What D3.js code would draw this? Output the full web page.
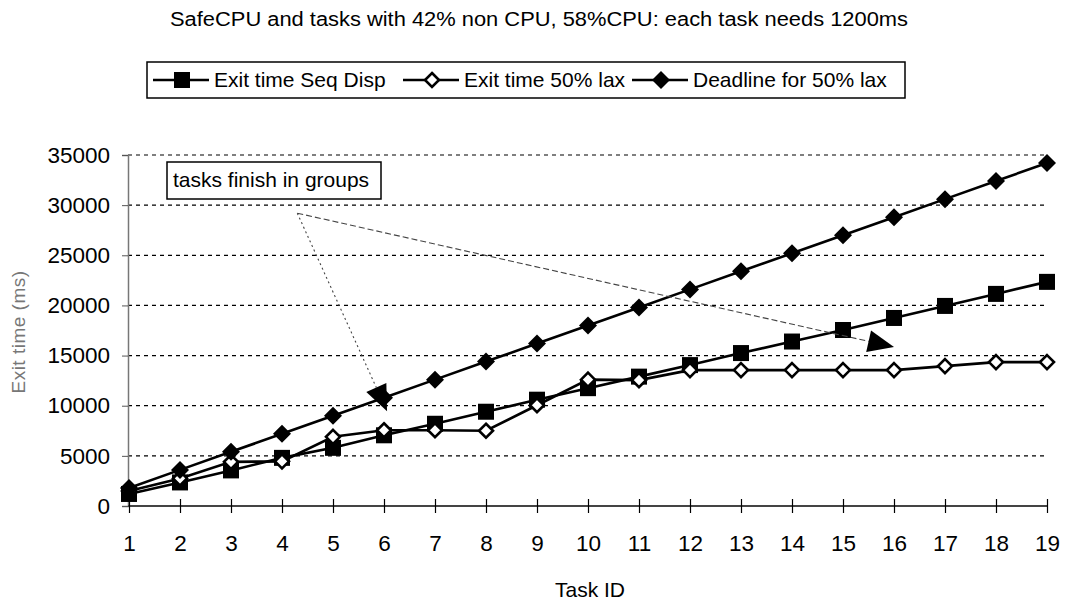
<!DOCTYPE html>
<html>
<head>
<meta charset="utf-8">
<script src="https://cdn.jsdelivr.net/npm/d3@7"></script>
<style>
  html, body { margin: 0; padding: 0; background: #fff; }
  svg { display: block; font-family: "Liberation Sans", Arial, sans-serif; }
</style>
</head>
<body>
<svg id="chart" width="1075" height="601"></svg>
<script>
// Task IDs along the x axis
const tasks = d3.range(1, 20);

// Exit time with sequential dispatch (ms)
const seqDisp = [1200, 2350, 3550, 4800, 5800, 7050, 8200, 9400, 10600, 11750,
                 12900, 14050, 15250, 16400, 17550, 18750, 19950, 21150, 22350];

// Exit time with 50% laxity (ms)
const lax50 = [1500, 2750, 4400, 4450, 6900, 7550, 7550, 7500, 10050, 12600,
               12550, 13550, 13550, 13550, 13550, 13550, 13950, 14350, 14350];

// Deadline for 50% laxity (ms)
const deadline = [1800, 3600, 5400, 7200, 9000, 10800, 12600, 14400, 16200, 18000,
                  19800, 21600, 23400, 25200, 27000, 28800, 30600, 32400, 34200];

const yTicks = [0, 5000, 10000, 15000, 20000, 25000, 30000, 35000];

const seriesNames = ["Exit time Seq Disp", "Exit time 50% lax", "Deadline for 50% lax"];
const seriesMarkers = ["square", "openDiamond", "diamond"];

const titleText = "SafeCPU and tasks with 42% non CPU, 58%CPU: each task needs 1200ms";
const noteText = "tasks finish in groups";

const svg = d3.select("#chart");

const plot = { left: 128, right: 1047, top: 155, bottom: 506 };

const x = d3.scalePoint().domain(tasks).range([plot.left + 1, plot.right]);
const y = d3.scaleLinear().domain([0, 35000]).range([plot.bottom, plot.top]);

// Title (narrow, heavy face stretched to its full run)
svg.append("text")
  .attr("x", 170).attr("y", 26)
  .attr("font-size", 20)
  .attr("textLength", 738)
  .attr("lengthAdjust", "spacingAndGlyphs")
  .text(titleText);

// Horizontal dashed gridlines
svg.append("g")
  .selectAll("line")
  .data(yTicks.filter(d => d > 0))
  .join("line")
  .attr("x1", plot.left).attr("x2", plot.right)
  .attr("y1", d => y(d)).attr("y2", d => y(d))
  .attr("stroke", "#000")
  .attr("stroke-width", 1.2)
  .attr("stroke-dasharray", "4,4");

// Y axis
const yAxis = svg.append("g")
  .attr("transform", `translate(${plot.left},0)`)
  .call(d3.axisLeft(y).tickValues(yTicks).tickSize(6).tickPadding(12).tickFormat(d3.format("d")));
yAxis.select(".domain").attr("stroke", "#777").attr("stroke-width", 1.5);
yAxis.selectAll(".tick line").attr("stroke", "#555");
yAxis.selectAll("text").attr("font-size", 22.5).attr("font-family", "Liberation Sans, Arial, sans-serif").attr("fill", "#000");

// X axis with ticks crossing the baseline
const xAxis = svg.append("g")
  .attr("transform", `translate(0,${plot.bottom})`)
  .call(d3.axisBottom(x).tickSizeInner(7).tickSizeOuter(0).tickPadding(22));
xAxis.select(".domain").attr("stroke", "#444").attr("stroke-width", 2)
  .attr("d", `M${plot.left},0H${plot.right}`);
xAxis.selectAll(".tick line").attr("y1", -7).attr("stroke", "#000").attr("stroke-width", 1.2);
xAxis.selectAll("text").attr("font-size", 22.5).attr("font-family", "Liberation Sans, Arial, sans-serif").attr("fill", "#000");

// Axis titles
svg.append("text")
  .attr("transform", "translate(25,332) rotate(-90)")
  .attr("text-anchor", "middle")
  .attr("font-size", 19)
  .attr("letter-spacing", 0.5)
  .attr("fill", "#777")
  .text("Exit time (ms)");

svg.append("text")
  .attr("x", 590).attr("y", 597)
  .attr("text-anchor", "middle")
  .attr("font-size", 21)
  .text("Task ID");

// Marker drawing helper
function drawMarker(sel, kind) {
  if (kind === "square") {
    sel.append("rect")
      .attr("x", -8).attr("y", -8).attr("width", 16).attr("height", 16)
      .attr("fill", "#000");
  } else if (kind === "diamond") {
    sel.append("path")
      .attr("d", "M0,-9L9,0L0,9L-9,0Z")
      .attr("fill", "#000");
  } else {
    sel.append("path")
      .attr("d", "M0,-7L7,0L0,7L-7,0Z")
      .attr("fill", "#fff")
      .attr("stroke", "#000")
      .attr("stroke-width", 2.6);
  }
}

const line = d3.line().x((d, i) => x(tasks[i])).y(d => y(d));

const seriesData = [seqDisp, lax50, deadline];
seriesData.forEach((vals, si) => {
  const g = svg.append("g");
  g.append("path")
    .attr("d", line(vals))
    .attr("fill", "none")
    .attr("stroke", "#000")
    .attr("stroke-width", 2.6);
  g.selectAll("g.pt")
    .data(vals)
    .join("g")
    .attr("class", "pt")
    .attr("transform", (d, i) => `translate(${x(tasks[i])},${y(d)})`)
    .each(function () { drawMarker(d3.select(this), seriesMarkers[si]); });
});

// Callout box with arrows pointing at grouped finishes
const noteAnchor = { task: 4.3, value: 29200 };
const noteTargets = [
  { task: 6.06, value: 9450, dash: "2,3" },
  { task: 16.0, value: 15850, dash: "6,3" }
];
const xc = t => x(1) + (t - 1) * (x(2) - x(1));

noteTargets.forEach(t => {
  const x0 = xc(noteAnchor.task), y0 = y(noteAnchor.value);
  const x1 = xc(t.task), y1 = y(t.value);
  const ang = Math.atan2(y1 - y0, x1 - x0);
  const headLen = 26, headW = 11;
  const bx = x1 - headLen * Math.cos(ang), by = y1 - headLen * Math.sin(ang);
  svg.append("line")
    .attr("x1", x0).attr("y1", y0).attr("x2", bx).attr("y2", by)
    .attr("stroke", "#444").attr("stroke-width", 1.1)
    .attr("stroke-dasharray", t.dash);
  const px = -Math.sin(ang), py = Math.cos(ang);
  svg.append("path")
    .attr("d", `M${x1},${y1}L${bx + px * headW},${by + py * headW}L${bx - px * headW},${by - py * headW}Z`)
    .attr("fill", "#000");
});

svg.append("rect")
  .attr("x", 167).attr("y", 162).attr("width", 214).attr("height", 37)
  .attr("fill", "#fff").attr("stroke", "#000").attr("stroke-width", 1.5);
svg.append("text")
  .attr("x", 173).attr("y", 187)
  .attr("font-size", 21)
  .text(noteText);

// Legend
const legend = svg.append("g");
legend.append("rect")
  .attr("x", 147).attr("y", 62).attr("width", 758).attr("height", 36)
  .attr("fill", "#fff").attr("stroke", "#000").attr("stroke-width", 1.5);
const legendX = [153, 403, 632];
seriesNames.forEach((name, i) => {
  const g = legend.append("g").attr("transform", `translate(${legendX[i]},80)`);
  g.append("line").attr("x1", 0).attr("x2", 56).attr("y1", 0).attr("y2", 0)
    .attr("stroke", "#000").attr("stroke-width", 2.6);
  const m = g.append("g").attr("transform", "translate(29,0)");
  drawMarker(m, seriesMarkers[i]);
  g.append("text").attr("x", 61).attr("y", 6.5)
    .attr("font-size", 21)
    .text(name);
});
</script>
</body>
</html>
